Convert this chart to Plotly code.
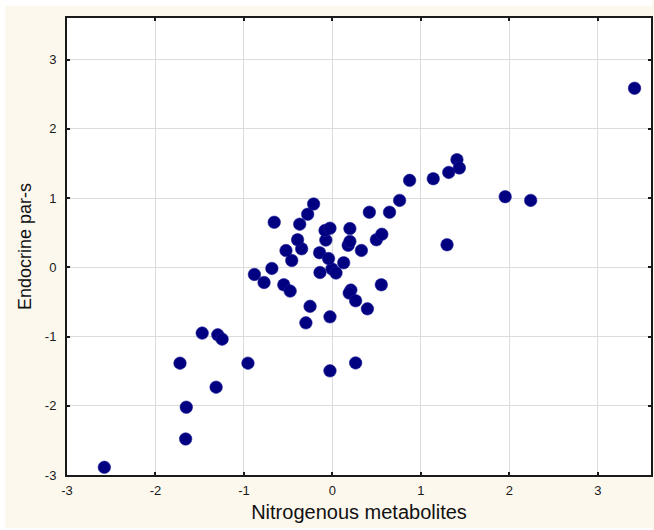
import plotly.graph_objects as go

# Standardised scores per observation
nitrogenous = [
    -2.578, -1.659, -1.652, -1.315, -1.723, -0.955, -1.472, -1.296, -1.247, -0.028,
    0.262, -0.300, -0.028, -0.253, 0.395, 0.208, 0.189, 0.262, 0.552, -0.550,
    -0.478, -0.882, -0.773, -0.685, -0.141, -0.005, 0.040, 0.127, -0.460, -0.525,
    -0.348, -0.394, -0.145, -0.044, 0.327, -0.075, 0.178, 0.197, 0.496, 0.558,
    -0.084, -0.028, 0.197, -0.370, -0.658, -0.280, -0.213, 0.417, 0.645, 0.759,
    0.872, 1.139, 1.314, 1.407, 1.434, 1.295, 1.952, 2.240, 3.414,
]
endocrine = [
    -2.889, -2.480, -2.021, -1.732, -1.385, -1.385, -0.951, -0.976, -1.038, -1.496,
    -1.381, -0.803, -0.716, -0.564, -0.600, -0.330, -0.373, -0.484, -0.253, -0.253,
    -0.344, -0.104, -0.220, -0.017, -0.075, -0.025, -0.083, 0.065, 0.098, 0.241,
    0.267, 0.397, 0.210, 0.126, 0.243, 0.393, 0.318, 0.373, 0.397, 0.477,
    0.532, 0.564, 0.559, 0.622, 0.650, 0.766, 0.914, 0.795, 0.795, 0.966,
    1.255, 1.279, 1.370, 1.554, 1.434, 0.325, 1.019, 0.966, 2.585,
]
tick_vals = [-3, -2, -1, 0, 1, 2, 3]
tick_text = ["-3", "-2", "-1", "0", "1", "2", "3"]

W, H = 654, 530
L, R, T, B = 67, 1, 18, 55
beige = "#fdf8ee"

fig = go.Figure(
    go.Scatter(
        x=nitrogenous,
        y=endocrine,
        mode="markers",
        marker=dict(size=12.5, color="#000080", line=dict(width=0.6, color="#1f1f99")),
        hoverinfo="x+y",
    )
)

axis_common = dict(
    tickmode="array",
    tickvals=tick_vals,
    ticktext=tick_text,
    showgrid=True,
    gridcolor="#dcdcdc",
    gridwidth=1,
    zeroline=False,
    showline=True,
    linecolor="#1a1a1a",
    linewidth=2,
    mirror="allticks",
    ticks="inside",
    ticklen=3,
    tickwidth=2,
    tickcolor="#1a1a1a",
    tickfont=dict(family="Liberation Sans, Arial, sans-serif", size=13, color="#1a1a1a"),
)

fig.update_xaxes(
    range=[-3, 3.6],
    title=dict(text="Nitrogenous metabolites",
               font=dict(family="Liberation Sans, Arial, sans-serif", size=20, color="#111"),
               standoff=8),
    ticklabelstandoff=2,
    **axis_common,
)
fig.update_yaxes(
    range=[-3, 3.6],
    title=dict(text="Endocrine par-s",
               font=dict(family="Liberation Sans, Arial, sans-serif", size=18, color="#111"),
               standoff=9),
    ticklabelstandoff=6,
    **axis_common,
)

# thin white strips around the beige page area
pw, ph = W - L - R, H - T - B
def px_x(v):
    return (v - L) / pw
def px_y(v):
    return (H - B - v) / ph

strips = [
    (0, 0, 5, H),
    (0, 0, W, 6),
    (0, 528, W, H),
]
shapes = []
for x0, y0, x1, y1 in strips:
    shapes.append(dict(type="rect", xref="paper", yref="paper",
                       x0=px_x(x0), x1=px_x(x1), y0=px_y(y1), y1=px_y(y0),
                       fillcolor="white", line=dict(width=0), layer="below"))

fig.update_layout(
    width=W,
    height=H,
    margin=dict(l=L, r=R, t=T, b=B),
    paper_bgcolor=beige,
    plot_bgcolor="white",
    showlegend=False,
    shapes=shapes,
)

fig.write_html("out.html")
